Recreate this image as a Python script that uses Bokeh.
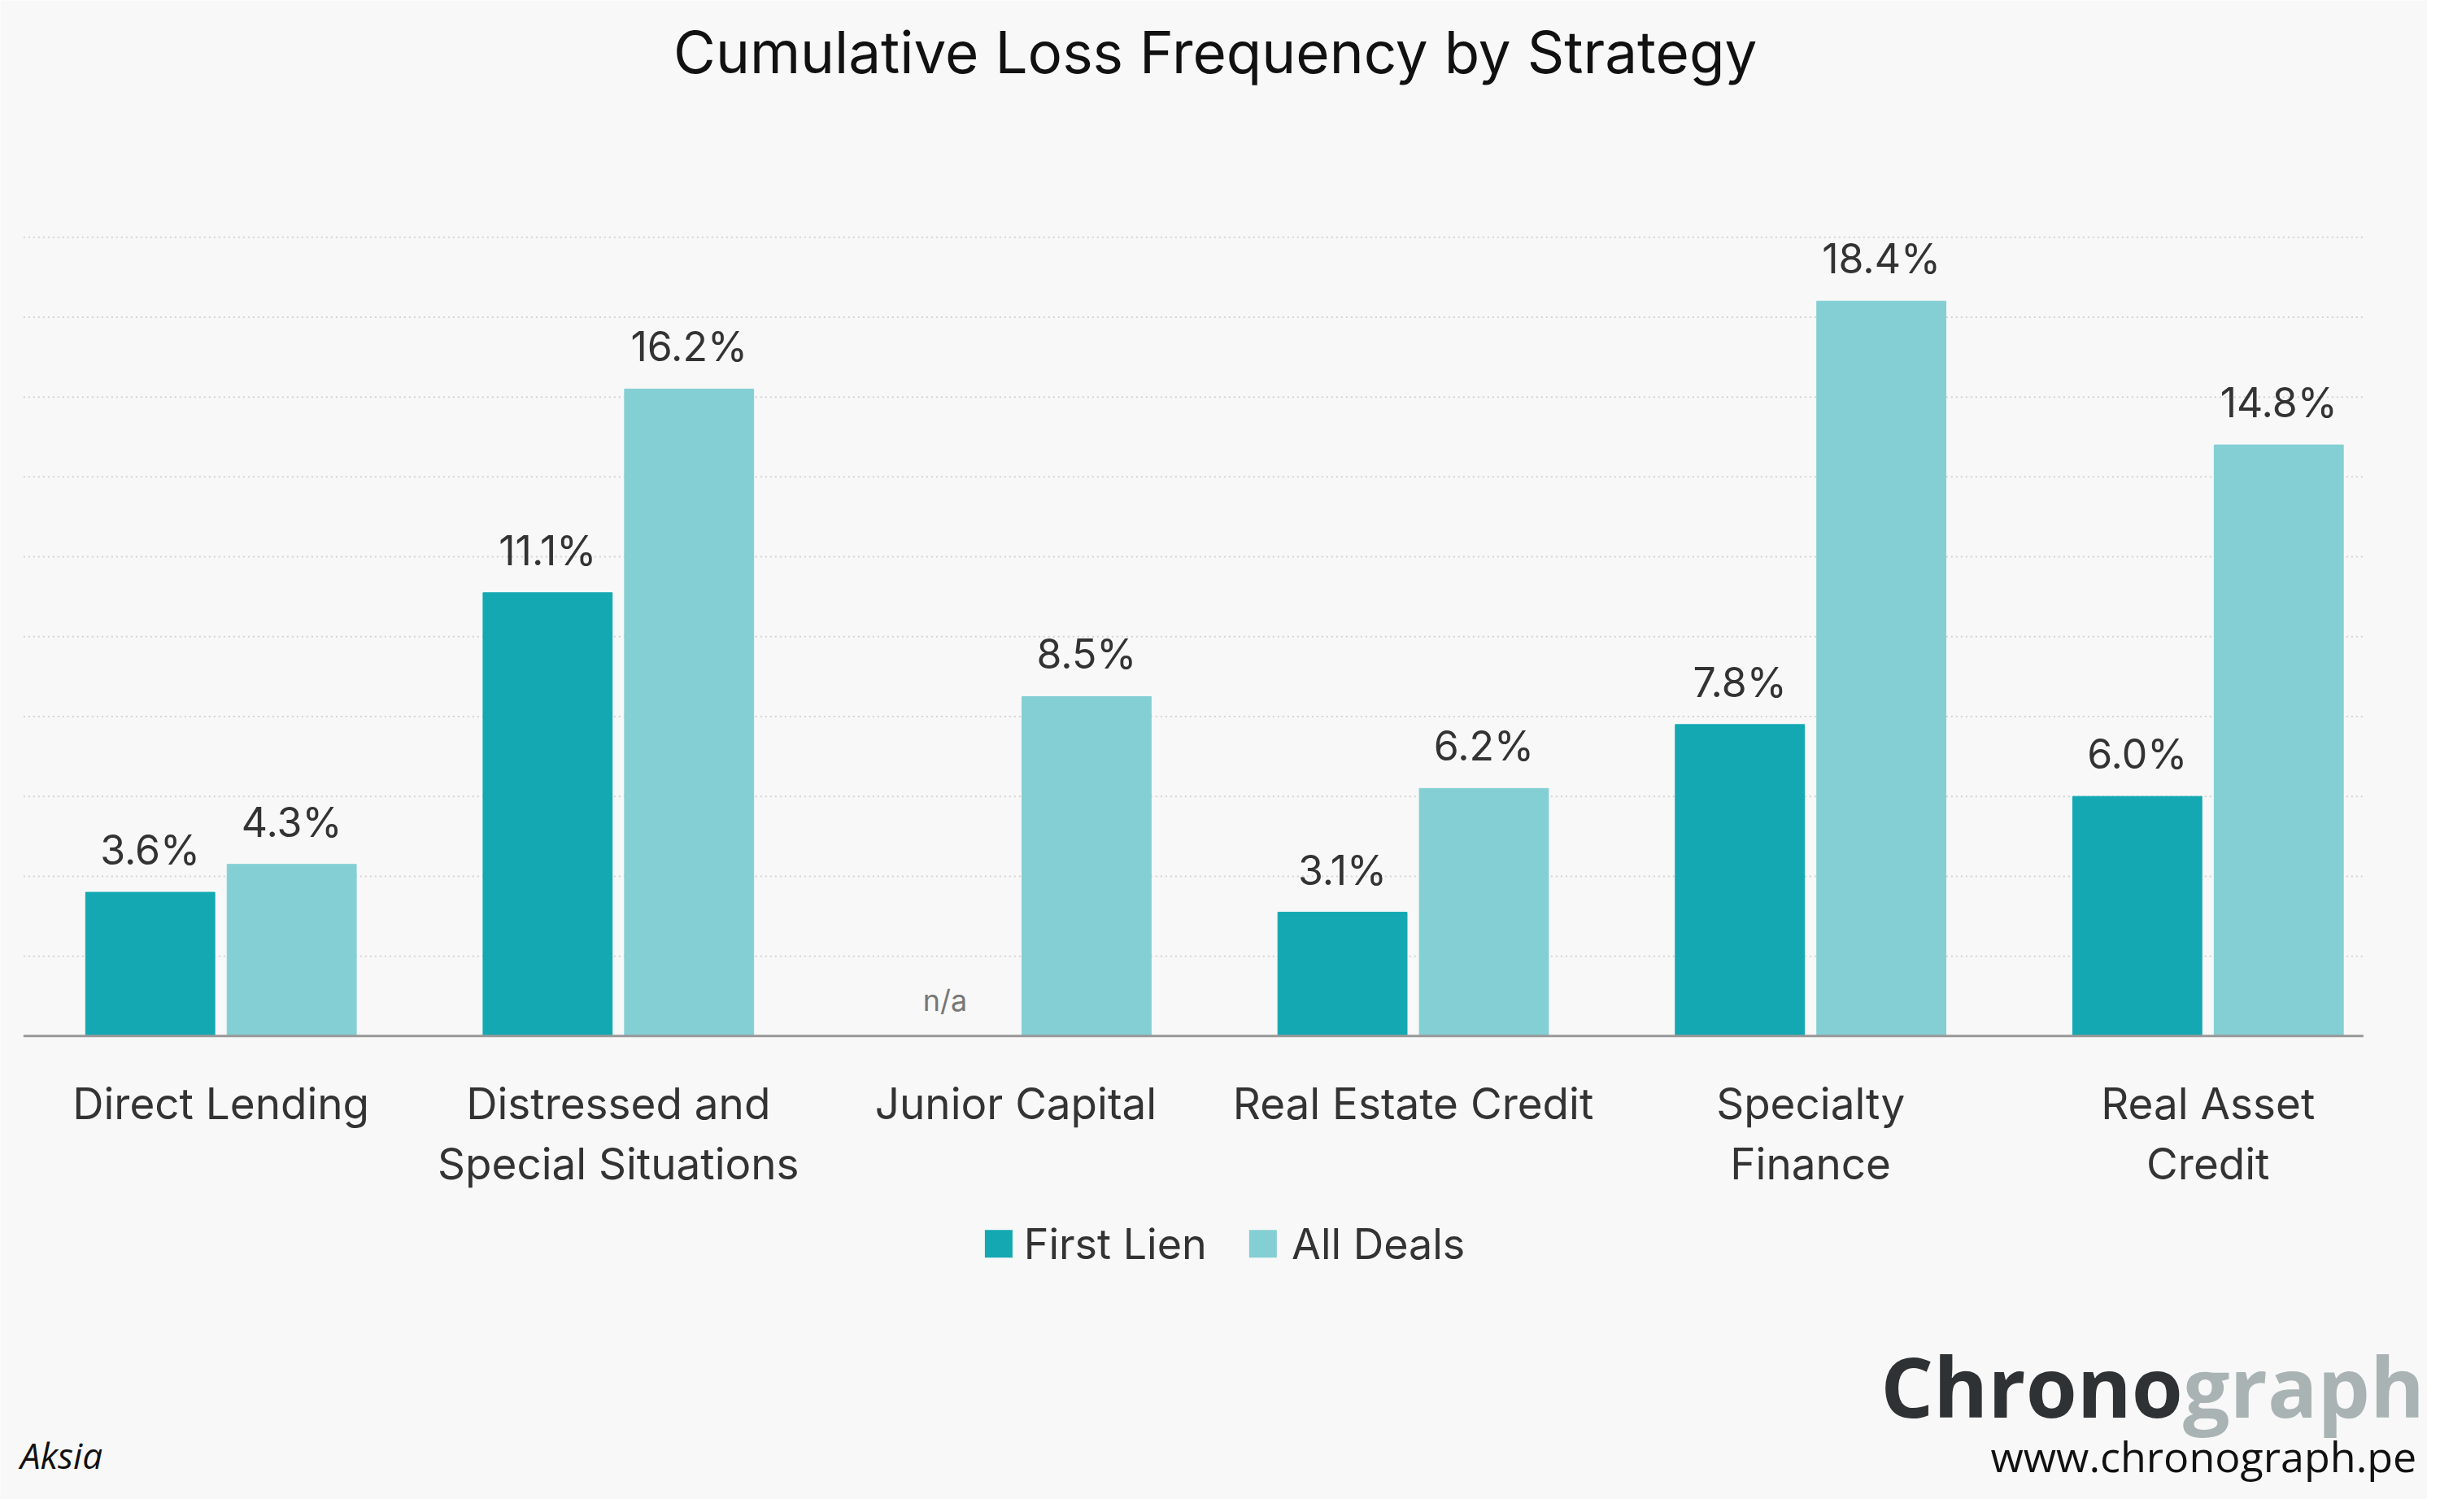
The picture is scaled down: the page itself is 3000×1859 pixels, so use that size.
from bokeh.plotting import figure
from bokeh.models import ColumnDataSource, Range1d
from bokeh.core.properties import value
from bokeh.embed import file_html
from bokeh.resources import INLINE

categories = ["Direct Lending", "Distressed and\nSpecial Situations", "Junior Capital",
              "Real Estate Credit", "Specialty\nFinance", "Real Asset\nCredit"]
first_lien = [3.6, 11.1, None, 3.1, 7.8, 6.0]
all_deals = [4.3, 16.2, 8.5, 6.2, 18.4, 14.8]
grid_ticks = [2, 4, 6, 8, 10, 12, 14, 16, 18, 20]
series_names = ["First Lien", "All Deals"]

FONT = "Inter"
C1, C2 = "#13a8b2", "#84cfd3"
BG = "#f8f8f8"
TXT = "#333333"

xs = list(range(len(categories)))
off = 0.178
bw = 0.325
XL, XR = -0.497, 5.391

p = figure(width=2984, height=1843, output_backend="svg", toolbar_location=None,
           x_range=Range1d(-0.555, 5.552), y_range=Range1d(-11.6, 25.93),
           min_border=0, background_fill_color=BG, border_fill_color=BG,
           outline_line_color=None)
p.axis.visible = False
p.grid.visible = False

# grid lines
p.segment(x0=[XL] * len(grid_ticks), x1=[XR] * len(grid_ticks), y0=grid_ticks, y1=grid_ticks,
          line_color="#d4d4d4", line_dash="dotted", line_width=2)

fl_x = [x - off for x, v in zip(xs, first_lien) if v is not None]
fl_y = [v for v in first_lien if v is not None]
ad_x = [x + off for x in xs]

s1 = ColumnDataSource(dict(x=fl_x, top=fl_y, lab=[f"{v:.1f}%" for v in fl_y]))
s2 = ColumnDataSource(dict(x=ad_x, top=all_deals, lab=[f"{v:.1f}%" for v in all_deals]))

p.vbar(x="x", top="top", width=bw, source=s1, color=C1)
p.vbar(x="x", top="top", width=bw, source=s2, color=C2)
for s in (s1, s2):
    p.text(x="x", y="top", text="lab", source=s, text_align="center", text_baseline="bottom",
           y_offset=-22, text_font=value(FONT), text_font_size="50px", text_color=TXT)

na_x = [x - off for x, v in zip(xs, first_lien) if v is None]
p.text(x=na_x, y=[0] * len(na_x), text=["n/a"] * len(na_x), text_align="center",
       text_baseline="bottom", y_offset=-22, text_font=value(FONT), text_font_size="36px",
       text_color="#777777")

# baseline
p.segment(x0=[XL], x1=[XR], y0=[0], y1=[0], line_color="#999999", line_width=3)

# category labels
p.text(x=xs, y=[-1.05] * len(xs), text=categories, text_align="center", text_baseline="top",
       text_line_height=1.15, text_font=value(FONT), text_font_size="53px", text_color=TXT)

# title
p.text(x=[2.502], y=[24.64], text=["Cumulative Loss Frequency by Strategy"],
       text_align="center", text_baseline="middle", text_font=value(FONT),
       text_font_size="71px", text_color="#111111")

# legend
p.scatter(x=[1.957, 2.622], y=[-5.2, -5.2], marker="square", size=34,
          color=[C1, C2], line_color=None)
p.text(x=[2.02, 2.694], y=[-5.2, -5.2], text=series_names, text_align="left",
       text_baseline="middle", text_font=value(FONT), text_font_size="52px", text_color=TXT)

# footer
p.text(x=[4.937], y=[-8.75], text=["Chrono"], text_align="right", text_baseline="alphabetic",
       text_font=value("Open Sans"), text_font_style="bold", text_font_size="102px",
       text_color="#2f3234")
p.text(x=[4.937], y=[-8.75], text=["graph"], text_align="left", text_baseline="alphabetic",
       text_font=value("Open Sans"), text_font_style="bold", text_font_size="102px",
       text_color="#aab3b4")
p.text(x=[5.525], y=[-10.5], text=["www.chronograph.pe"], text_align="right",
       text_baseline="alphabetic", text_font=value("Open Sans"), text_font_size="52px",
       text_color="#111111")
p.text(x=[-0.505], y=[-10.5], text=["Aksia"], text_align="left", text_baseline="alphabetic",
       text_font=value("Open Sans"), text_font_style="italic", text_font_size="44px",
       text_color="#111111")

open("out.html", "w").write(file_html(p, INLINE))
